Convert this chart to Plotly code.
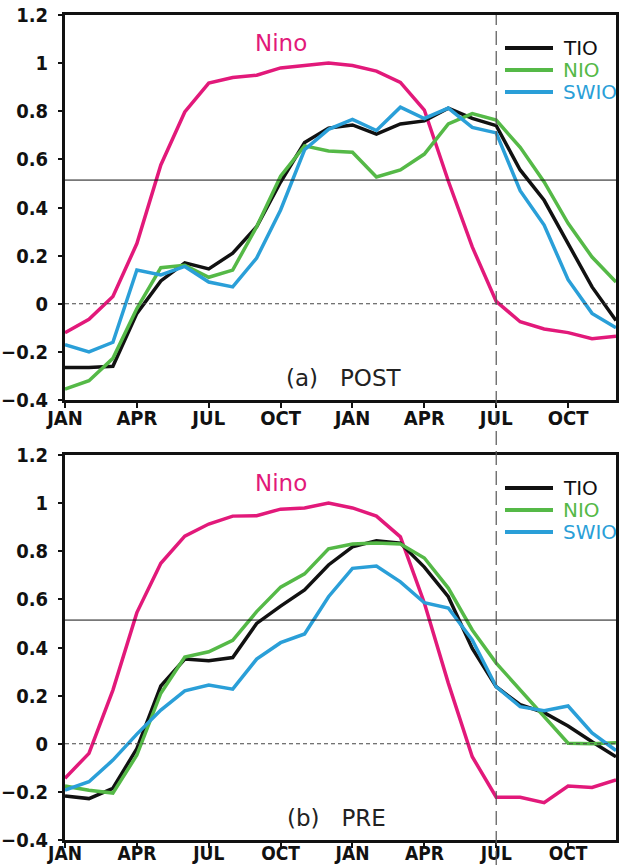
import plotly.graph_objects as go

months = list(range(24))
tick_pos = [0, 3, 6, 9, 12, 15, 18, 21]
tick_text = ["JAN", "APR", "JUL", "OCT", "JAN", "APR", "JUL", "OCT"]
y_ticks = [-0.4, -0.2, 0, 0.2, 0.4, 0.6, 0.8, 1, 1.2]
y_text = ["\u22120.4", "\u22120.2", "0", "0.2", "0.4", "0.6", "0.8", "1", "1.2"]
series_names = ["TIO", "NIO", "SWIO"]

# Panel (a) POST
post_nino = [-0.12, -0.065, 0.03, 0.25, 0.577, 0.797, 0.917, 0.94, 0.95, 0.98, 0.99, 1.0,
             0.99, 0.967, 0.92, 0.805, 0.51, 0.236, 0.01, -0.075, -0.105, -0.12, -0.145, -0.135]
post_tio = [-0.265, -0.265, -0.26, -0.04, 0.095, 0.17, 0.145, 0.21, 0.32, 0.506, 0.67, 0.73,
            0.743, 0.705, 0.747, 0.76, 0.813, 0.77, 0.74, 0.556, 0.43, 0.25, 0.07, -0.07]
post_nio = [-0.355, -0.32, -0.227, -0.02, 0.15, 0.16, 0.11, 0.14, 0.32, 0.53, 0.656, 0.635,
            0.63, 0.527, 0.556, 0.622, 0.747, 0.79, 0.763, 0.65, 0.506, 0.334, 0.194, 0.09]
post_swio = [-0.17, -0.2, -0.16, 0.14, 0.12, 0.155, 0.09, 0.07, 0.19, 0.39, 0.64, 0.725,
             0.766, 0.72, 0.817, 0.77, 0.813, 0.733, 0.71, 0.47, 0.327, 0.1, -0.04, -0.1]

# Panel (b) PRE
pre_nino = [-0.143, -0.04, 0.223, 0.545, 0.75, 0.863, 0.913, 0.946, 0.948, 0.975, 0.98, 1.0,
            0.98, 0.946, 0.86, 0.585, 0.252, -0.054, -0.222, -0.222, -0.245, -0.176, -0.182, -0.15]
pre_tio = [-0.217, -0.228, -0.185, -0.02, 0.24, 0.352, 0.345, 0.358, 0.5, 0.572, 0.639, 0.743,
           0.818, 0.844, 0.834, 0.734, 0.611, 0.396, 0.237, 0.162, 0.129, 0.074, 0.008, -0.054]
pre_nio = [-0.176, -0.193, -0.205, -0.047, 0.21, 0.36, 0.382, 0.43, 0.549, 0.651, 0.706, 0.81,
           0.83, 0.834, 0.83, 0.772, 0.647, 0.473, 0.335, 0.223, 0.115, 0.002, 0.0, 0.004]
pre_swio = [-0.193, -0.158, -0.068, 0.04, 0.14, 0.22, 0.244, 0.227, 0.352, 0.42, 0.456, 0.611,
            0.729, 0.739, 0.673, 0.586, 0.564, 0.431, 0.237, 0.154, 0.137, 0.157, 0.045, -0.028]

threshold = 0.514
split_month = 18

C_NINO = "#E2197A"
C_TIO = "#111111"
C_NIO = "#55B947"
C_SWIO = "#2A9FD8"
series_colors = [C_TIO, C_NIO, C_SWIO]

fig = go.Figure()

panels = [
    ("x", "y", post_nino, [post_tio, post_nio, post_swio]),
    ("x2", "y2", pre_nino, [pre_tio, pre_nio, pre_swio]),
]
for xa, ya, nino, others in panels:
    fig.add_trace(go.Scatter(x=months, y=nino, mode="lines", line=dict(color=C_NINO, width=3.5),
                             showlegend=False, xaxis=xa, yaxis=ya, name="Nino"))
    for vals, col, nm in zip(others, series_colors, series_names):
        fig.add_trace(go.Scatter(x=months, y=vals, mode="lines", line=dict(color=col, width=3.5),
                                 name=nm, showlegend=False, xaxis=xa, yaxis=ya))

FAM = "Liberation Sans Narrow, DejaVu Sans Condensed, Arial Narrow, sans-serif"
xtickfont = dict(family=FAM, size=20, color="#111", weight="bold")
xtickfont2 = dict(family=FAM, size=19, color="#111", weight="bold")
ytickfont = dict(family=FAM, size=20, color="#111", weight="bold")
axis_common = dict(showline=True, linecolor="#111", linewidth=3, mirror=True,
                   showgrid=False, zeroline=False, ticks="outside", tickcolor="#111",
                   tickwidth=2, automargin=False)

PH = 825.0  # plot-area span in px (paper height)
fig.update_layout(
    width=622, height=865,
    margin=dict(l=65, r=6, t=15, b=25),
    paper_bgcolor="white", plot_bgcolor="white",
    showlegend=False,
    xaxis=dict(domain=[0, 1], range=[0, 23], tickvals=tick_pos, ticktext=tick_text,
               ticklen=5, anchor="y", tickfont=xtickfont, ticklabelstandoff=-7, **axis_common),
    yaxis=dict(domain=[440 / PH, 1.0], range=[-0.4, 1.2], tickvals=y_ticks, ticktext=y_text,
               ticklen=4, anchor="x", ticklabelstandoff=6, tickfont=ytickfont, **axis_common),
    xaxis2=dict(domain=[0, 1], range=[0, 23], tickvals=tick_pos, ticktext=tick_text,
                ticklen=5, anchor="y2", tickfont=xtickfont2, ticklabelstandoff=-11, **axis_common),
    yaxis2=dict(domain=[0, 385 / PH], range=[-0.4, 1.2], tickvals=y_ticks, ticktext=y_text,
                ticklen=4, anchor="x2", ticklabelstandoff=6, tickfont=ytickfont, **axis_common),
)

label_font = dict(family="DejaVu Sans, sans-serif", size=23)
legend_font = dict(family="DejaVu Sans, sans-serif", size=20)
NB = "\u00a0"
panel_tags = [("x", "y", f"(a){NB}{NB}{NB}POST", 11.65, 1.0), ("x2", "y2", f"(b){NB}{NB}{NB}PRE", 11.35, 385 / PH)]
for xa, ya, tag, tagx, ptop in panel_tags:
    fig.add_shape(type="line", xref=xa, yref=ya, x0=0, x1=23, y0=0, y1=0,
                  line=dict(color="#444", width=1, dash="4px,3px"))
    fig.add_shape(type="line", xref=xa, yref=ya, x0=0, x1=23, y0=threshold, y1=threshold,
                  line=dict(color="#111", width=1))
    fig.add_annotation(x=9, y=1.084, xref=xa, yref=ya, text="Nino", showarrow=False,
                       font=dict(color=C_NINO, **label_font))
    fig.add_annotation(x=tagx, y=-0.31, xref=xa, yref=ya,
                       text=tag, showarrow=False, font=dict(color="#222", **label_font))
    # manual legend (line samples + coloured names)
    for k, (nm, col) in enumerate(zip(series_names, series_colors)):
        yy = ptop - (33 + 22 * k) / PH
        fig.add_shape(type="line", xref="paper", yref="paper",
                      x0=(505 - 65) / 551, x1=(553 - 65) / 551, y0=yy, y1=yy,
                      line=dict(color=col, width=4))
        fig.add_annotation(x=(561 - 65) / 551, y=yy, xref="paper", yref="paper",
                           xanchor="left", yanchor="middle", text=nm, showarrow=False,
                           font=dict(color=col, **legend_font))

# vertical dashed line across both panels
fig.add_shape(type="line", xref="x", yref="paper", x0=split_month, x1=split_month,
              y0=-25 / PH, y1=1.0, line=dict(color="#555", width=1.2, dash="14px,6px"))

fig.write_html("out.html")
